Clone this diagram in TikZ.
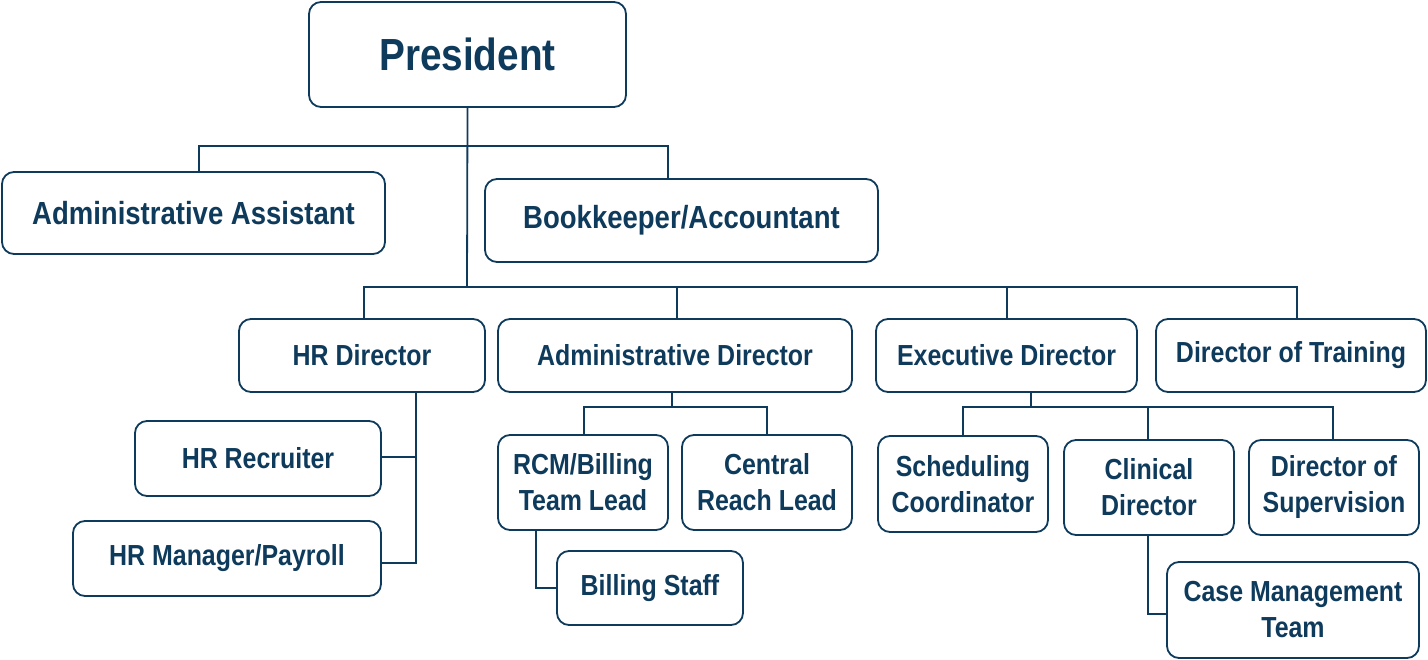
\documentclass[tikz,border=0pt]{standalone}
\usepackage{fontspec}
\setmainfont{Liberation Sans}[FakeStretch=0.86]
\definecolor{navy}{HTML}{0E3A5B}
\begin{document}
\begin{tikzpicture}[x=1pt,y=-1pt,
  box/.style={draw=navy, line width=1.8pt, rounded corners=12pt, align=center,
    inner sep=0pt, text=navy, font=\bfseries\fontsize{29}{36}\selectfont},
  big/.style={font=\bfseries\fontsize{32}{38}\selectfont},
  link/.style={draw=navy, line width=1.8pt}]
\useasboundingbox (0,0) rectangle (1428,660);
% nodes
\node[box, font=\bfseries\fontsize{45}{50}\selectfont, minimum width=317pt, minimum height=105pt] (pres) at (467.5,54.5) {President};
\node[box, big, minimum width=383pt, minimum height=82pt] (aa) at (193.5,213) {Administrative Assistant};
\node[box, big, minimum width=393pt, minimum height=83pt] (bk) at (681.5,220.5) {Bookkeeper/Accountant};
\node[box, minimum width=246pt, minimum height=73pt] (hrd) at (362,355.5) {HR Director};
\node[box, minimum width=354pt, minimum height=73pt] (add) at (675,355.5) {Administrative Director};
\node[box, minimum width=261pt, minimum height=73pt] (exd) at (1006.5,355.5) {Executive Director};
\node[box, minimum width=270pt, minimum height=73pt] (dtr) at (1291,355.5) {Director of Training};
\node[box, minimum width=246pt, minimum height=75pt] (hrr) at (258,458.5) {HR Recruiter};
\node[box, minimum width=308pt, minimum height=75pt] (hrm) at (227,558.5) {HR Manager/Payroll};
\node[box, minimum width=170pt, minimum height=95pt] (rcm) at (583,482.5) {RCM/Billing\\Team Lead};
\node[box, minimum width=170pt, minimum height=95pt] (crl) at (767,482.5) {Central\\Reach Lead};
\node[box, minimum width=186pt, minimum height=74pt] (bst) at (650,588) {Billing Staff};
\node[box, minimum width=170pt, minimum height=96pt] (sch) at (963,484) {Scheduling\\Coordinator};
\node[box, minimum width=170pt, minimum height=95pt] (cld) at (1149,487.5) {Clinical\\Director};
\node[box, minimum width=170pt, minimum height=95pt] (dos) at (1334,487.5) {Director of\\Supervision};
\node[box, minimum width=252pt, minimum height=96pt] (cmt) at (1293,610) {Case Management\\Team};
% junction coordinates
\coordinate (b1) at (467,146);
\coordinate (b1l) at (199,146);
\coordinate (b1r) at (668,146);
\coordinate (b2) at (467,287);
\coordinate (b2a) at (364,287);
\coordinate (b2b) at (677,287);
\coordinate (b2c) at (1007,287);
\coordinate (b2d) at (1297,287);
\coordinate (h1) at (416,392);
\coordinate (h2) at (416,457);
\coordinate (h3) at (416,563);
\coordinate (a0) at (672,407);
\coordinate (a1) at (584,407);
\coordinate (a2) at (767,407);
\coordinate (r1) at (536,530);
\coordinate (r2) at (536,588);
\coordinate (e0) at (1031,407);
\coordinate (e1) at (963,407);
\coordinate (e2) at (1148,407);
\coordinate (e3) at (1333,407);
\coordinate (c1) at (1148,614);
% connectors
\draw[link] (pres.south) -- (b2);
\draw[link] (b1l |- aa.north) -- (b1l) -- (b1r) -- (b1r |- bk.north);
\draw[link] (b2a |- hrd.north) -- (b2a) -- (b2d) -- (b2d |- dtr.north);
\draw[link] (b2b) -- (b2b |- add.north);
\draw[link] (b2c) -- (b2c |- exd.north);
\draw[link] (h1 |- hrd.south) -- (h3) -- (h3 -| hrm.east);
\draw[link] (h2) -- (h2 -| hrr.east);
\draw[link] (a0 |- add.south) -- (a0);
\draw[link] (a1 |- rcm.north) -- (a1) -- (a2) -- (a2 |- crl.north);
\draw[link] (r1 |- rcm.south) -- (r2) -- (r2 -| bst.west);
\draw[link] (e0 |- exd.south) -- (e0);
\draw[link] (e1 |- sch.north) -- (e1) -- (e3) -- (e3 |- dos.north);
\draw[link] (e2) -- (e2 |- cld.north);
\draw[link] (e2 |- cld.south) -- (c1) -- (c1 -| cmt.west);
\end{tikzpicture}
\end{document}
